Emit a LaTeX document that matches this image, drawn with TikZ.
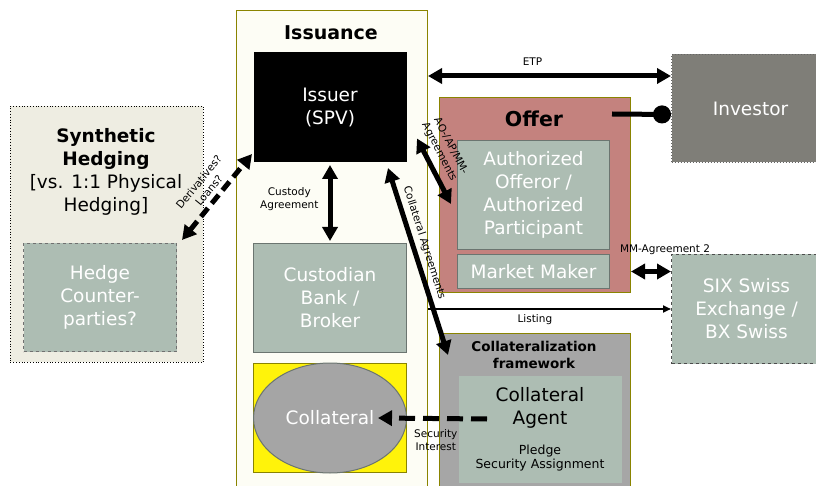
\documentclass[tikz,border=0pt]{standalone}
\usepackage{fontspec}
\setmainfont{DejaVu Sans}
\usepackage{tikz}
\usetikzlibrary{arrows.meta,shapes.geometric}

\definecolor{rim}{HTML}{8A8400}
\definecolor{synthfill}{HTML}{EEEDE2}
\definecolor{issfill}{HTML}{FDFDF5}
\definecolor{unitfill}{HTML}{ADBDB3}
\definecolor{unitrim}{HTML}{6B7570}
\definecolor{offerfill}{HTML}{C4827E}
\definecolor{invfill}{HTML}{7F7E78}
\definecolor{framefill}{HTML}{A6A6A6}
\definecolor{vaultyellow}{HTML}{FFF30A}
\definecolor{ellfill}{HTML}{A5A5A5}
\definecolor{hedgerim}{HTML}{707070}

\newcommand\unitfont{\fontsize{18.5}{23}\selectfont}
\newcommand\tagfont{\fontsize{10.5}{13}\selectfont}

\begin{document}
\begin{tikzpicture}[x=1pt,y=-1pt,
  >={Triangle[length=14pt,width=15pt]},
  panel/.style={draw=rim,line width=1pt,anchor=north west,inner sep=0pt},
  unit/.style={draw=unitrim,line width=1pt,fill=unitfill,anchor=north west,inner sep=0pt,
    text=white,align=center,font=\unitfont},
  link/.style={line width=5pt},
  tag/.style={font=\tagfont,align=center,inner sep=1pt}
]
  \useasboundingbox (0,0) rectangle (816,486);

  % hedging side
  \node[panel,draw=black,line width=0.8pt,dotted,fill=synthfill,minimum width=193pt,minimum height=256pt] (synth) at (10,106) {};
  \node[align=center,font=\fontsize{18.5}{23}\selectfont] (synthtitle) at (106,172)
    {\textbf{Synthetic}\\\textbf{Hedging}\\{[}vs. 1:1 Physical\\Hedging{]}};
  \node[unit,draw=hedgerim,dashed,minimum width=153pt,minimum height=108pt] (hedge) at (23,243) {Hedge\\Counter-\\parties?};

  % issuance column
  \node[panel,fill=issfill,minimum width=191pt,minimum height=490pt] (issuance) at (236,10) {};
  \node[font=\bfseries\fontsize{19}{22}\selectfont] (isstitle) at (331,33) {Issuance};
  \node[unit,draw=none,fill=black,minimum width=153pt,minimum height=110pt] (issuer) at (253,52) {Issuer\\(SPV)};
  \node[unit,minimum width=153pt,minimum height=109pt] (custodian) at (253,243) {Custodian\\Bank /\\Broker};
  \node[panel,fill=vaultyellow,minimum width=153pt,minimum height=109pt] (vault) at (253,363) {};
  \node[ellipse,draw=unitrim,line width=1pt,fill=ellfill,minimum width=153pt,minimum height=110pt,inner sep=0pt,
    text=white,font=\unitfont] (collateral) at (vault.center) {Collateral};

  % offer
  \node[panel,fill=offerfill,minimum width=191pt,minimum height=195pt] (offer) at (439,97) {};
  \node[font=\bfseries\fontsize{20.5}{24}\selectfont] (offertitle) at (534,119) {Offer};
  \node[unit,minimum width=152pt,minimum height=109pt] (ao) at (457,140) {Authorized\\Offeror /\\Authorized\\Participant};
  \node[unit,minimum width=152pt,minimum height=34pt] (mm) at (457,254) {Market Maker};

  % market side
  \node[unit,draw=black!60,dotted,fill=invfill,minimum width=158pt,minimum height=108pt] (investor) at (671,54) {Investor};
  \node[unit,draw=black!70,dashed,minimum width=150pt,minimum height=109pt] (six) at (671,254) {SIX Swiss\\Exchange /\\BX Swiss};

  % collateralization
  \node[panel,fill=framefill,minimum width=191pt,minimum height=160pt] (frame) at (439,333) {};
  \node[align=center,font=\bfseries\fontsize{13.5}{17}\selectfont] (frametitle) at (534,355) {Collateralization\\framework};
  \node[panel,draw=none,fill=unitfill,minimum width=163pt,minimum height=107pt] (agent) at (458,375) {};
  \node[align=center,font=\unitfont] (agenttitle) at (540,408) {Collateral\\Agent};
  \node[align=center,font=\fontsize{12.5}{14}\selectfont] (pledge) at (540,458) {Pledge\\Security Assignment};

  % connectors
  \coordinate (etp) at ([yshift=-22pt]investor.north west);
  \draw[link,<->] (issuance.east |- etp) -- (etp) node[tag,above=7pt,pos=0.43] {ETP};
  \draw[link,<->,shorten <=2pt,shorten >=2pt] (issuer.south) -- (custodian.north)
    node[tag,left=8pt,pos=0.45] {Custody\\Agreement};
  \draw[link,dash pattern=on 11pt off 6pt,<->] ([shift={(5pt,3pt)}]hedge.north east) -- ([shift={(-1pt,9pt)}]issuer.south west)
    node[tag,sloped,above=3pt,midway] {Derivatives?\\Loans?};
  \draw[link,<->] ([shift={(10pt,-31pt)}]issuer.east) -- ([shift={(-6pt,-9pt)}]ao.west)
    node[tag,sloped,above=5pt,pos=0.3] {AO-/AP/MM-\\Agreements};
  \draw[link,<->] ([xshift=-19pt,yshift=-5pt]issuer.south east) -- ([xshift=9pt,yshift=-22pt]frame.north west)
    node[tag,sloped,above=3pt,pos=0.42] {Collateral Agreements};
  \draw[link,-{Circle[length=18pt]}] ([shift={(-19pt,-17pt)}]offer.north east) -- ([yshift=-6pt]investor.west);
  \draw[line width=2pt,-{Triangle[length=8pt,width=7pt]}] (issuance.east |- six.west) -- (six.west)
    node[tag,below=4pt,pos=0.44] {Listing};
  \draw[link,<->] (offer.east |- mm.east) -- (six.west |- mm.east)
    node[tag,above=13pt,pos=0.85] {MM-Agreement 2};
  \draw[link,dash pattern=on 16pt off 8pt,->] ([xshift=29pt,yshift=10pt]agent.west) -- ([xshift=-29pt]collateral.east)
    node[tag,below=7pt,pos=0.47] {Security\\Interest};
\end{tikzpicture}
\end{document}
